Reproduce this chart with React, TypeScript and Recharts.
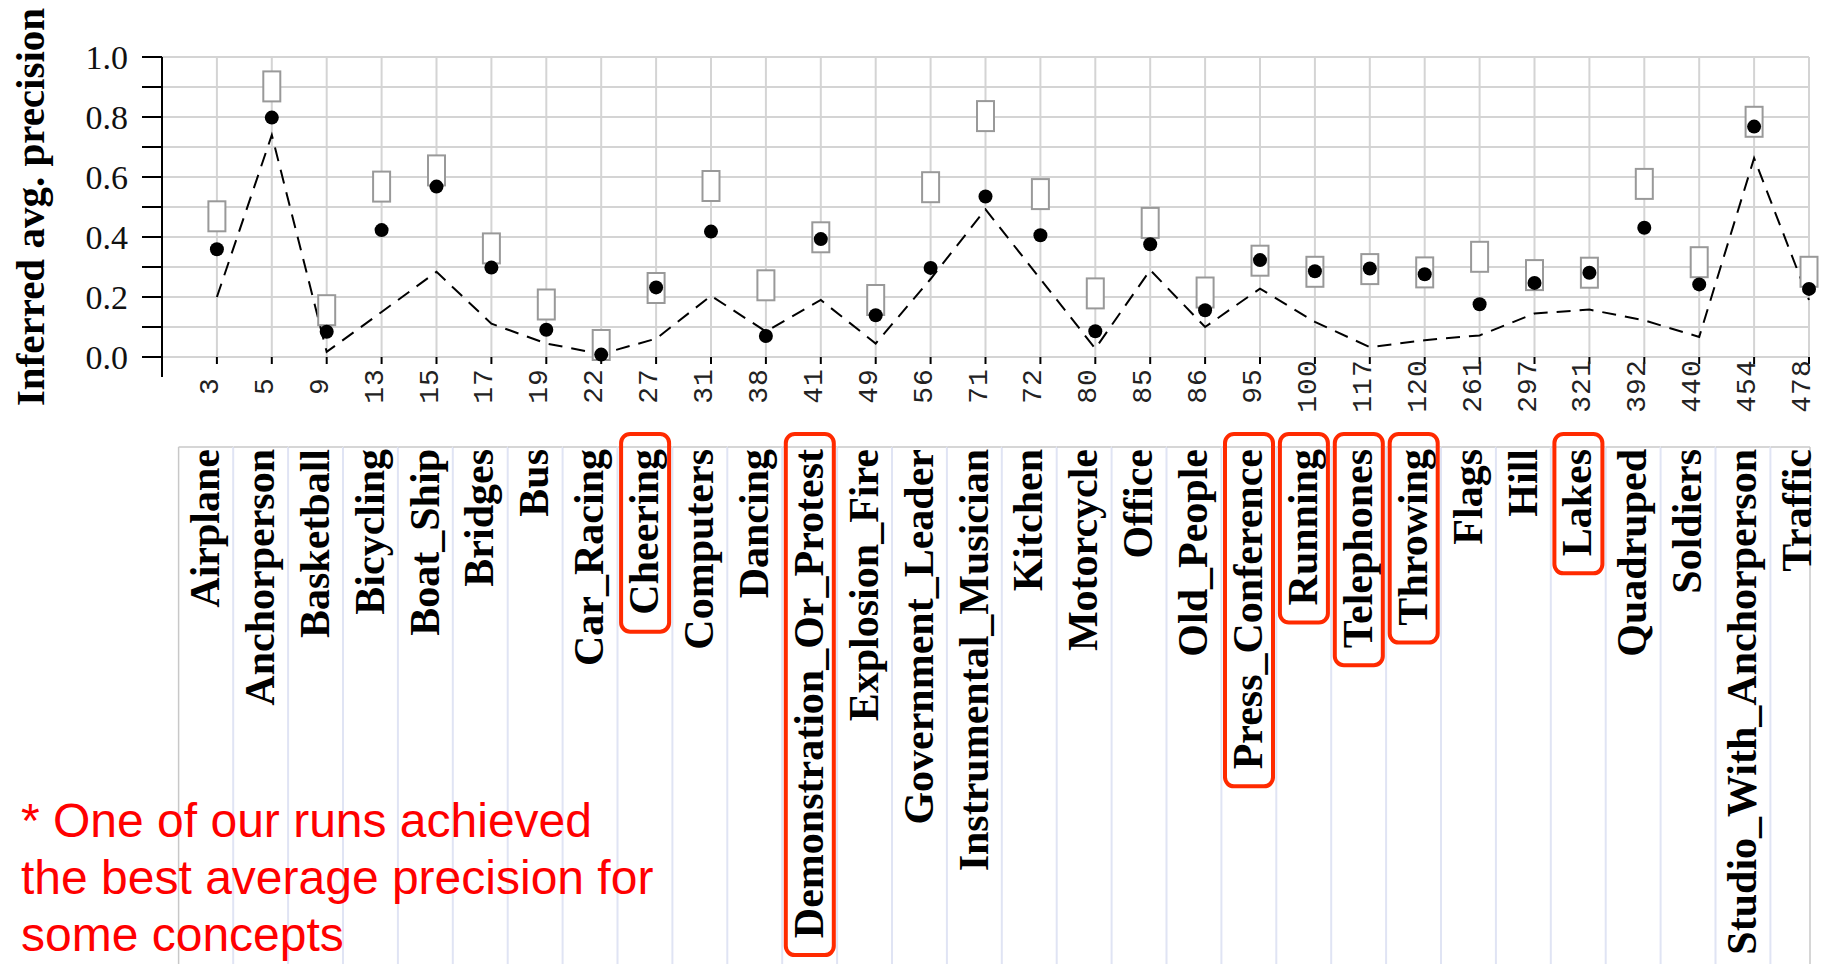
import React from "react";
import {
  ComposedChart,
  XAxis,
  YAxis,
  CartesianGrid,
  Line,
  Scatter,
  ReferenceLine,
} from "recharts";

// concept ids (tick labels of the plot) and concept names (lower panel)
const conceptIds = [
  "3", "5", "9", "13", "15", "17", "19", "22", "27", "31", "38", "41", "49", "56", "71",
  "72", "80", "85", "86", "95", "100", "117", "120", "261", "297", "321", "392", "440", "454", "478",
];
const conceptNames = [
  "Airplane", "Anchorperson", "Basketball", "Bicycling", "Boat_Ship", "Bridges", "Bus",
  "Car_Racing", "Cheering", "Computers", "Dancing", "Demonstration_Or_Protest",
  "Explosion_Fire", "Government_Leader", "Instrumental_Musician", "Kitchen", "Motorcycle",
  "Office", "Old_People", "Press_Conference", "Running", "Telephones", "Throwing", "Flags",
  "Hill", "Lakes", "Quadruped", "Soldiers", "Studio_With_Anchorperson", "Traffic",
];
// concepts where one of our runs was the best
const bestConcepts = ["Cheering", "Demonstration_Or_Protest", "Press_Conference", "Running", "Telephones", "Throwing", "Lakes"];

// best run (boxes), our run (dots), median (dashed)
const bestAp = [
  0.469, 0.902, 0.156, 0.568, 0.622, 0.362, 0.175, 0.04, 0.23, 0.57, 0.239, 0.399, 0.19, 0.566, 0.803,
  0.543, 0.212, 0.447, 0.215, 0.321, 0.284, 0.293, 0.282, 0.334, 0.273, 0.281, 0.577, 0.316, 0.784, 0.284,
];
const ourAp = [
  0.359, 0.798, 0.084, 0.423, 0.568, 0.298, 0.091, 0.008, 0.232, 0.418, 0.07, 0.393, 0.139, 0.297, 0.535,
  0.406, 0.086, 0.376, 0.156, 0.323, 0.286, 0.295, 0.276, 0.176, 0.247, 0.281, 0.431, 0.242, 0.768, 0.227,
];
const medianAp = [
  0.2, 0.74, 0.017, 0.15, 0.284, 0.111, 0.045, 0.01, 0.061, 0.204, 0.085, 0.19, 0.045, 0.26, 0.492,
  0.26, 0.028, 0.29, 0.1, 0.228, 0.117, 0.033, 0.056, 0.072, 0.145, 0.158, 0.122, 0.067, 0.663, 0.19,
];

const yTicks = [0, 0.1, 0.2, 0.3, 0.4, 0.5, 0.6, 0.7, 0.8, 0.9, 1.0];
const yTickLabels = ["0.0", "", "0.2", "", "0.4", "", "0.6", "", "0.8", "", "1.0"];
const xTicks = conceptIds.map((_, i) => i);

const data = conceptIds.map((id, i) => ({
  i,
  id,
  best: bestAp[i],
  ours: ourAp[i],
  median: medianAp[i],
}));

const NAME_FONT = "bold 42px 'Liberation Serif'";
let measureCtx: CanvasRenderingContext2D | null = null;
function textWidth(text: string) {
  if (!measureCtx) measureCtx = document.createElement("canvas").getContext("2d");
  measureCtx!.font = NAME_FONT;
  return measureCtx!.measureText(text).width;
}

const BoxMark = (p: any) => (
  <rect x={p.cx - 8.5} y={p.cy - 15} width={17} height={30} fill="#fff" stroke="#999" strokeWidth={2} />
);

const DotMark = (p: any) => <circle cx={p.cx} cy={p.cy} r={7} fill="#000" />;

const IdTick = (props: any) => {
  const { x, y, payload } = props;
  return (
    <text
      transform={`translate(${x + 1},${y}) rotate(-90)`}
      textAnchor="middle"
      fontFamily="'Liberation Mono', monospace"
      fontSize={28}
      letterSpacing={1}
      fill="#222"
    >
      {conceptIds[payload.value]}
    </text>
  );
};

const NameTick = (props: any) => {
  const { x, y, payload } = props;
  const idx = payload.value;
  const name = conceptNames[idx];
  const cx = x - 11;
  const left = cx - 27.3;
  const right = Math.min(cx + 27.3, 1810);
  const last = idx === conceptNames.length - 1;
  const top = y + 2;
  const hl = bestConcepts.includes(name);
  return (
    <g>
      <line x1={left} y1={y} x2={right} y2={y} stroke="#c8c8c8" strokeWidth={1.5} />
      {idx === 0 && <line x1={left} y1={y} x2={left} y2={964} stroke="#c8c8c8" strokeWidth={1.5} />}
      <line x1={right} y1={y} x2={right} y2={964} stroke={last ? "#c8c8c8" : "#e0e4f4"} strokeWidth={last ? 1.5 : 2} />
      <text
        transform={`translate(${cx + 13},${top}) rotate(-90)`}
        textAnchor="end"
        fontFamily="'Liberation Serif', serif"
        fontWeight="bold"
        fontSize={42}
        fill="#000"
      >
        {name}
      </text>
      {hl && (
        <rect
          x={cx - 24}
          y={top - 15}
          width={48}
          height={textWidth(name) + 32}
          rx={9}
          fill="none"
          stroke="#ff2a00"
          strokeWidth={4}
        />
      )}
    </g>
  );
};

const YLabel = (p: any) => {
  const vb = p.viewBox;
  return (
    <text
      transform={`translate(44,${vb.y + vb.height / 2}) rotate(-90)`}
      textAnchor="middle"
      fontFamily="'Liberation Serif', serif"
      fontWeight="bold"
      fontSize={41}
      fill="#000"
    >
      Inferred avg. precision
    </text>
  );
};

export default function App() {
  return (
    <div style={{ position: "absolute", left: 0, top: 0, width: 1826, height: 964, background: "#fff" }}>
      <ComposedChart
        width={1826}
        height={964}
        data={data}
        margin={{ top: 57, right: 17, left: 0, bottom: 0 }}
      >
        <CartesianGrid xAxisId="ids" stroke="#d4d4d4" strokeWidth={2} />
        <XAxis
          xAxisId="ids"
          type="number"
          dataKey="i"
          domain={[-1, 29]}
          ticks={xTicks}
          interval={0}
          height={90}
          axisLine={false}
          tickLine={{ stroke: "#000", strokeWidth: 2 }}
          tickSize={7}
          tickMargin={22}
          tick={<IdTick />}
        />
        <XAxis
          xAxisId="names"
          type="number"
          dataKey="i"
          domain={[-1, 29]}
          ticks={xTicks}
          interval={0}
          height={517}
          axisLine={false}
          tickLine={false}
          tickSize={0}
          tickMargin={0}
          tick={<NameTick />}
        />
        <YAxis
          domain={[0, 1]}
          ticks={yTicks}
          interval={0}
          width={162}
          tickSize={20}
          tickMargin={14}
          tickFormatter={(_v: number, idx: number) => yTickLabels[idx]}
          axisLine={{ stroke: "#000", strokeWidth: 2 }}
          tickLine={{ stroke: "#000", strokeWidth: 2 }}
          tick={{ fontFamily: "'Liberation Serif', serif", fontSize: 34, fill: "#111" }}
          label={{ content: YLabel }}
        />
        <ReferenceLine
          xAxisId="ids"
          segment={[{ x: -1, y: 0 }, { x: -1, y: -0.067 }]}
          stroke="#000"
          strokeWidth={2}
          ifOverflow="visible"
        />
        <Scatter xAxisId="ids" dataKey="best" shape={BoxMark} isAnimationActive={false} />
        <Line
          xAxisId="ids"
          type="linear"
          dataKey="median"
          stroke="#000"
          strokeWidth={2}
          strokeDasharray="14 9"
          dot={false}
          activeDot={false}
          isAnimationActive={false}
        />
        <Scatter xAxisId="ids" dataKey="ours" shape={DotMark} isAnimationActive={false} />
      </ComposedChart>
      <div
        style={{
          position: "absolute",
          left: 21,
          top: 792,
          fontFamily: "'Liberation Sans', Arial, sans-serif",
          fontSize: 48,
          lineHeight: "57px",
          color: "#ff0000",
          whiteSpace: "nowrap",
        }}
      >
        * One of our runs achieved
        <br />
        the best average precision for
        <br />
        some concepts
      </div>
    </div>
  );
}
